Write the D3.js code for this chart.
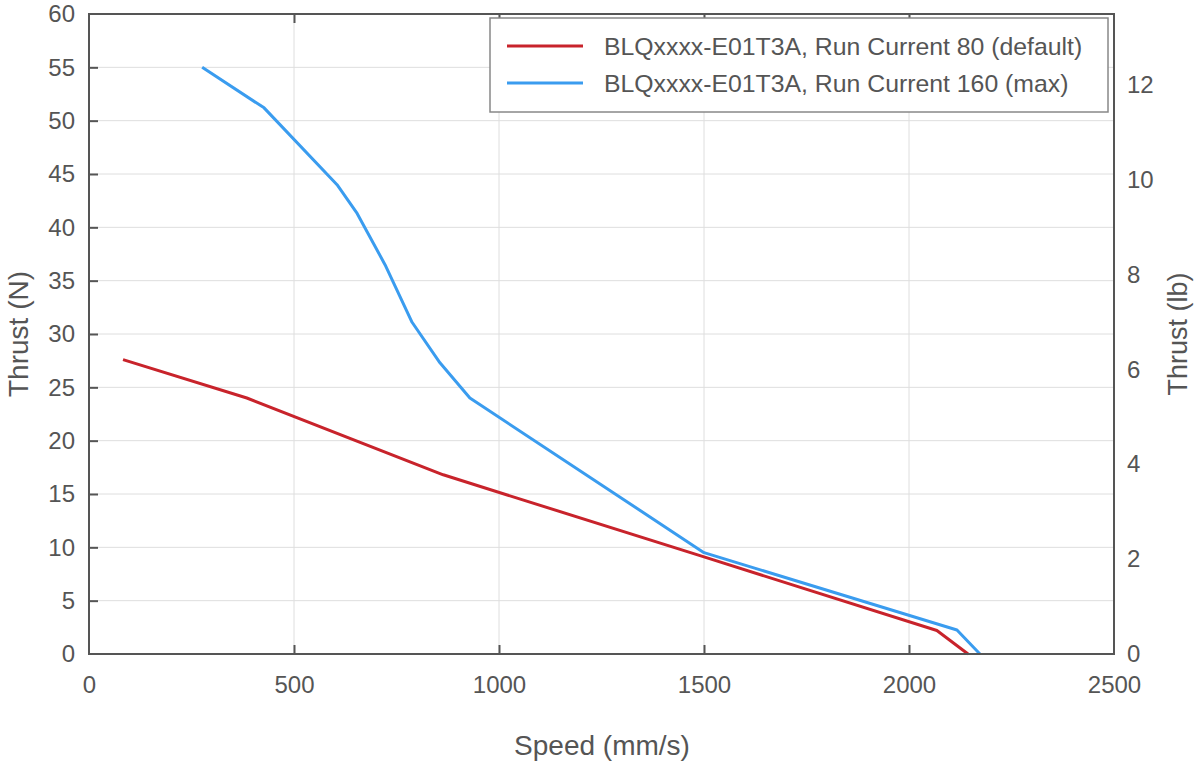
<!DOCTYPE html>
<html>
<head>
<meta charset="utf-8">
<script src="https://cdn.jsdelivr.net/npm/d3@7"></script>
<style>
  body { margin: 0; background: #fff; }
  text { font-family: "Liberation Sans", Arial, sans-serif; fill: #555; }
</style>
</head>
<body>
<svg id="chart" width="1195" height="765"></svg>
<script>
// speed (mm/s) vs thrust (N)
const runCurrent80 = [
  [83, 27.6], [385, 24.0], [864, 16.8], [1500, 9.1], [2068, 2.2], [2144, 0]
];
const runCurrent160 = [
  [276, 55.0], [427, 51.2], [605, 44.0], [654, 41.3], [722, 36.5], [788, 31.1],
  [856, 27.3], [929, 24.0], [1500, 9.5], [2117, 2.25], [2173, 0]
];
const seriesNames = [
  'BLQxxxx-E01T3A, Run Current 80 (default)',
  'BLQxxxx-E01T3A, Run Current 160 (max)'
];
const xTicks = [0, 500, 1000, 1500, 2000, 2500];
const yTicks = [0, 5, 10, 15, 20, 25, 30, 35, 40, 45, 50, 55, 60];
const lbTicks = [0, 2, 4, 6, 8, 10, 12];
const N_TO_LB = 0.224809;

const svg = d3.select('#chart');
const margin = { top: 14, right: 81, bottom: 111, left: 89 };
const width = 1195 - margin.left - margin.right;
const height = 765 - margin.top - margin.bottom;

const x = d3.scaleLinear().domain([0, 2500]).range([0, width]);
const y = d3.scaleLinear().domain([0, 60]).range([height, 0]);
const yLb = d3.scaleLinear().domain([0, 60 * N_TO_LB]).range([height, 0]);
const fmt = d3.format('d');

const g = svg.append('g').attr('transform', `translate(${margin.left},${margin.top})`);

// grid
g.append('g').selectAll('line').data(xTicks.slice(1, -1)).join('line')
  .attr('x1', d => x(d)).attr('x2', d => x(d)).attr('y1', 0).attr('y2', height)
  .attr('stroke', '#dedede').attr('stroke-width', 1);
g.append('g').selectAll('line').data(yTicks.slice(1, -1)).join('line')
  .attr('x1', 0).attr('x2', width).attr('y1', d => y(d)).attr('y2', d => y(d))
  .attr('stroke', '#dedede').attr('stroke-width', 1);

// series
const line = d3.line().x(d => x(d[0])).y(d => y(d[1]));
const colors = ['#c8232b', '#3a9cef'];
[runCurrent80, runCurrent160].forEach((data, i) => {
  g.append('path').datum(data)
    .attr('d', line)
    .attr('fill', 'none')
    .attr('stroke', colors[i])
    .attr('stroke-width', 3)
    .attr('stroke-linejoin', 'round');
});

// axes
function styleAxis(sel) {
  sel.select('.domain').remove();
  sel.selectAll('.tick line').attr('stroke', '#555').attr('stroke-width', 2);
  sel.selectAll('.tick text').style('font-size', '24px').attr('fill', '#555');
}

g.append('g').attr('transform', `translate(0,${height})`)
  .call(d3.axisBottom(x).tickValues(xTicks).tickSize(-9).tickPadding(22).tickFormat(fmt))
  .call(styleAxis)
  .call(s => s.selectAll('.tick line').filter(d => d === 0 || d === 2500).remove());

g.append('g')
  .call(d3.axisTop(x).tickValues(xTicks.slice(1, -1)).tickSize(-9).tickFormat(''))
  .call(styleAxis);

g.append('g')
  .call(d3.axisLeft(y).tickValues(yTicks).tickSize(-9).tickPadding(14).tickFormat(fmt))
  .call(styleAxis)
  .call(s => s.selectAll('.tick line').filter(d => d === 0 || d === 60).remove());

g.append('g').attr('transform', `translate(${width},0)`)
  .call(d3.axisRight(yLb).tickValues(lbTicks).tickSize(0).tickPadding(13).tickFormat(fmt))
  .call(styleAxis);

// frame
g.append('rect').attr('x', 0).attr('y', 0).attr('width', width).attr('height', height)
  .attr('fill', 'none').attr('stroke', '#555').attr('stroke-width', 2);

// axis titles
svg.append('text').attr('x', 602).attr('y', 755)
  .attr('text-anchor', 'middle').style('font-size', '28px').text('Speed (mm/s)');
svg.append('text')
  .attr('transform', 'translate(28,334) rotate(-90)')
  .attr('text-anchor', 'middle').style('font-size', '28px').text('Thrust (N)');
svg.append('text')
  .attr('transform', 'translate(1187,334) rotate(-90)')
  .attr('text-anchor', 'middle').style('font-size', '27px').text('Thrust (lb)');

// legend
const legend = svg.append('g').attr('transform', 'translate(490,18)');
legend.append('rect').attr('width', 618).attr('height', 94)
  .attr('fill', '#fff').attr('stroke', '#888').attr('stroke-width', 1.5);
seriesNames.forEach((name, i) => {
  const ly = 28 + i * 37;
  legend.append('line').attr('x1', 17).attr('x2', 93).attr('y1', ly).attr('y2', ly)
    .attr('stroke', colors[i]).attr('stroke-width', 3);
  legend.append('text').attr('x', 114).attr('y', ly + 9)
    .style('font-size', '24.8px').text(name);
});
</script>
</body>
</html>
